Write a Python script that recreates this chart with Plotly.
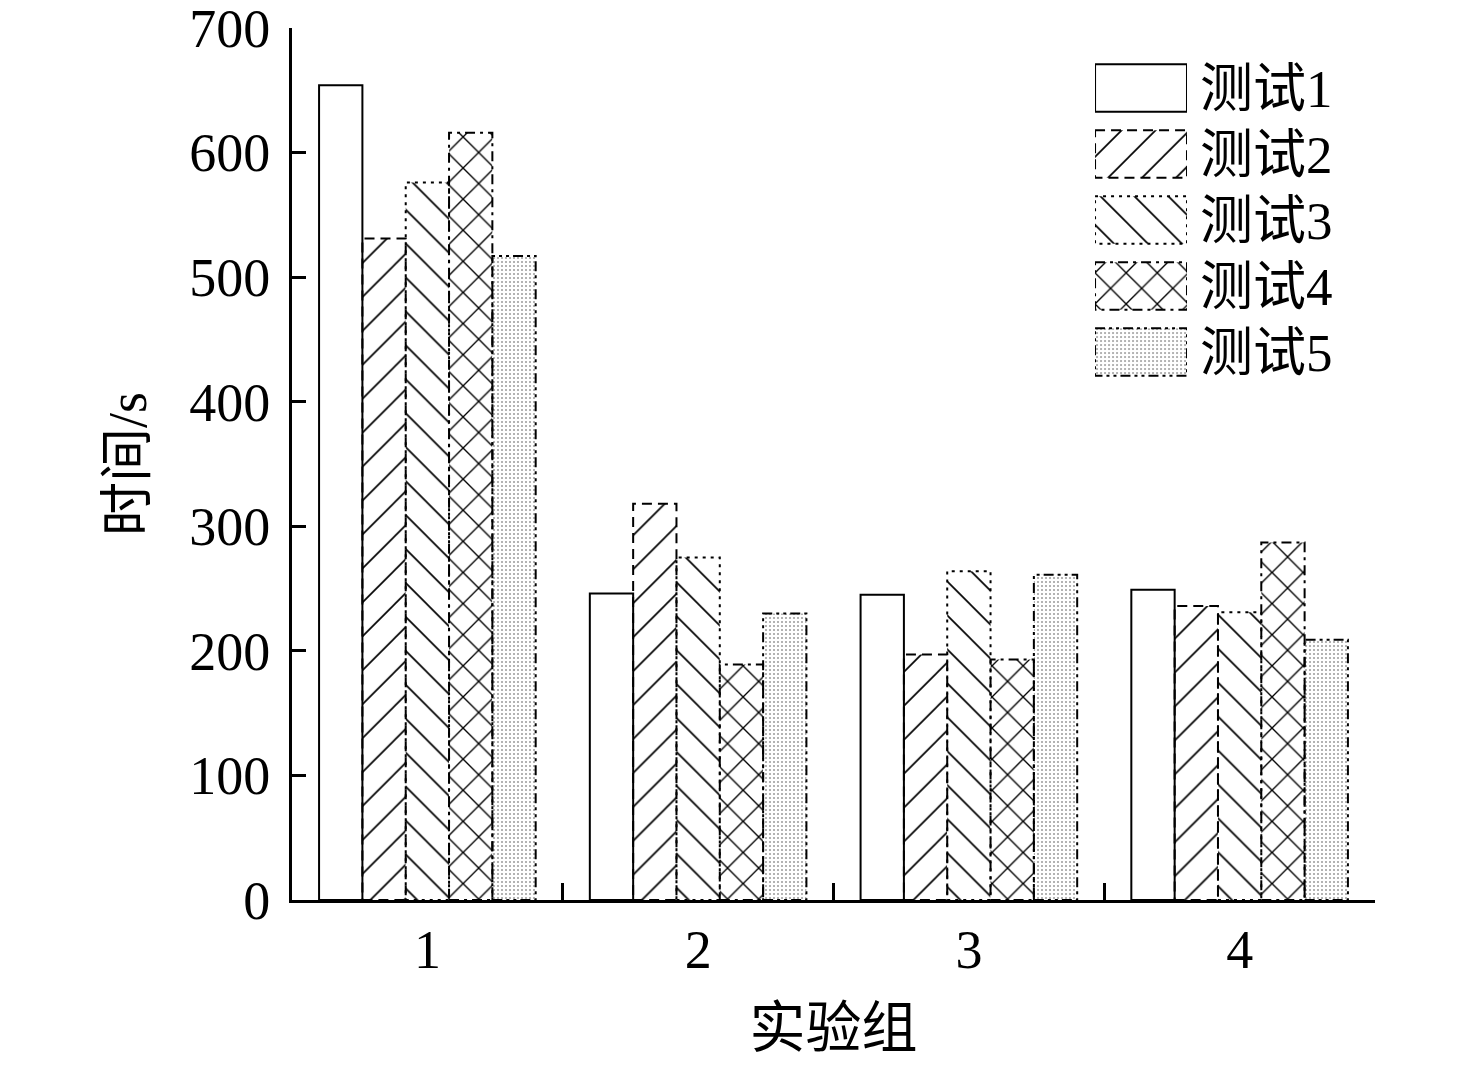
import plotly.graph_objects as go

# data
groups = ["1", "2", "3", "4"]
series = ["测试1", "测试2", "测试3", "测试4", "测试5"]
test1 = [654, 246, 245, 249]
test2 = [531, 318, 197, 236]
test3 = [576, 275, 264, 231]
test4 = [616, 189, 193, 287]
test5 = [517, 230, 261, 209]
y_ticks = [0, 100, 200, 300, 400, 500, 600, 700]

values = [test1, test2, test3, test4, test5]
shapes_ = ["", "/", "\\", "x", "."]
dashes = ["solid", "10px,6px", "3px,5px", "10px,5px,3px,5px", "10px,4px,3px,4px,3px,4px"]
FONT = "Liberation Serif, Noto Sans CJK SC"

GAP = 0.2
bw = (1 - GAP) / len(series)

fig = go.Figure()
shapes = []
for j, (name, vals) in enumerate(zip(series, values)):
    pat = dict(shape=shapes_[j], fgcolor="#000000", fgopacity=1, bgcolor="white",
               size=24, solidity=0.07)
    if shapes_[j] == "x":
        pat["size"] = 22
        pat["solidity"] = 0.12
    if shapes_[j] == ".":
        pat = dict(shape=".", fgcolor="#9a9a9a", fgopacity=1, bgcolor="white", size=4, solidity=0.2)
    fig.add_trace(go.Bar(
        x=groups, y=vals, name=name, showlegend=False,
        marker=dict(color="white", line=dict(width=0), pattern=pat),
    ))
    # dashed outlines (plotly bars can't dash their border)
    for i, v in enumerate(vals):
        x0 = i - (1 - GAP) / 2 + j * bw
        shapes.append(dict(type="rect", xref="x", yref="y", x0=x0, x1=x0 + bw, y0=0, y1=v,
                           line=dict(color="black", width=2, dash=dashes[j]), layer="above"))
    # legend swatch, drawn on a small inset axis
    fig.add_trace(go.Bar(
        x=[1], y=[name], orientation="h", width=0.72, xaxis="x2", yaxis="y2",
        showlegend=False, hoverinfo="skip",
        marker=dict(color="white", line=dict(width=0), pattern=pat),
    ))
    shapes.append(dict(type="rect", xref="x2", yref="y2", x0=0, x1=1, y0=j - 0.36, y1=j + 0.36,
                       line=dict(color="black", width=2, dash=dashes[j]), layer="above"))

# page body adds ~8px, so the figure is a bit smaller than the window
fig.update_layout(
    width=1460, height=1055,
    margin=dict(l=284, r=93, t=20, b=163),
    paper_bgcolor="white", plot_bgcolor="white",
    barmode="group", bargap=GAP, bargroupgap=0,
    font=dict(family=FONT, size=54, color="black"),
    shapes=shapes,
    xaxis=dict(
        type="category", range=[-0.5, 3.5], tickson="boundaries",
        ticks="inside", ticklen=17, tickwidth=3, tickcolor="black",
        showline=True, linewidth=3, linecolor="black", showgrid=False,
        title=dict(text="实验组", standoff=30, font=dict(family=FONT, size=56)),
        tickfont=dict(size=54), automargin=False,
    ),
    yaxis=dict(
        range=[0, 700], tickvals=y_ticks, ticks="inside", ticklen=14, tickwidth=3,
        tickcolor="black", showline=True, linewidth=3, linecolor="black",
        showgrid=False, zeroline=False, ticklabelstandoff=8, ticklabeloverflow="allow",
        title=dict(text="时间/s", standoff=26, font=dict(family=FONT, size=54)),
        tickfont=dict(size=54), automargin=False,
    ),
    xaxis2=dict(domain=[0.7415, 0.8264], range=[0, 1], visible=False, anchor="y2",
                automargin=False),
    yaxis2=dict(
        domain=[0.5906, 0.969], anchor="x2", side="right", type="category",
        autorange="reversed", showline=False, showgrid=False, ticks="",
        ticklabelstandoff=12, tickfont=dict(size=53), automargin=False,
    ),
)

fig.write_html("out.html")
